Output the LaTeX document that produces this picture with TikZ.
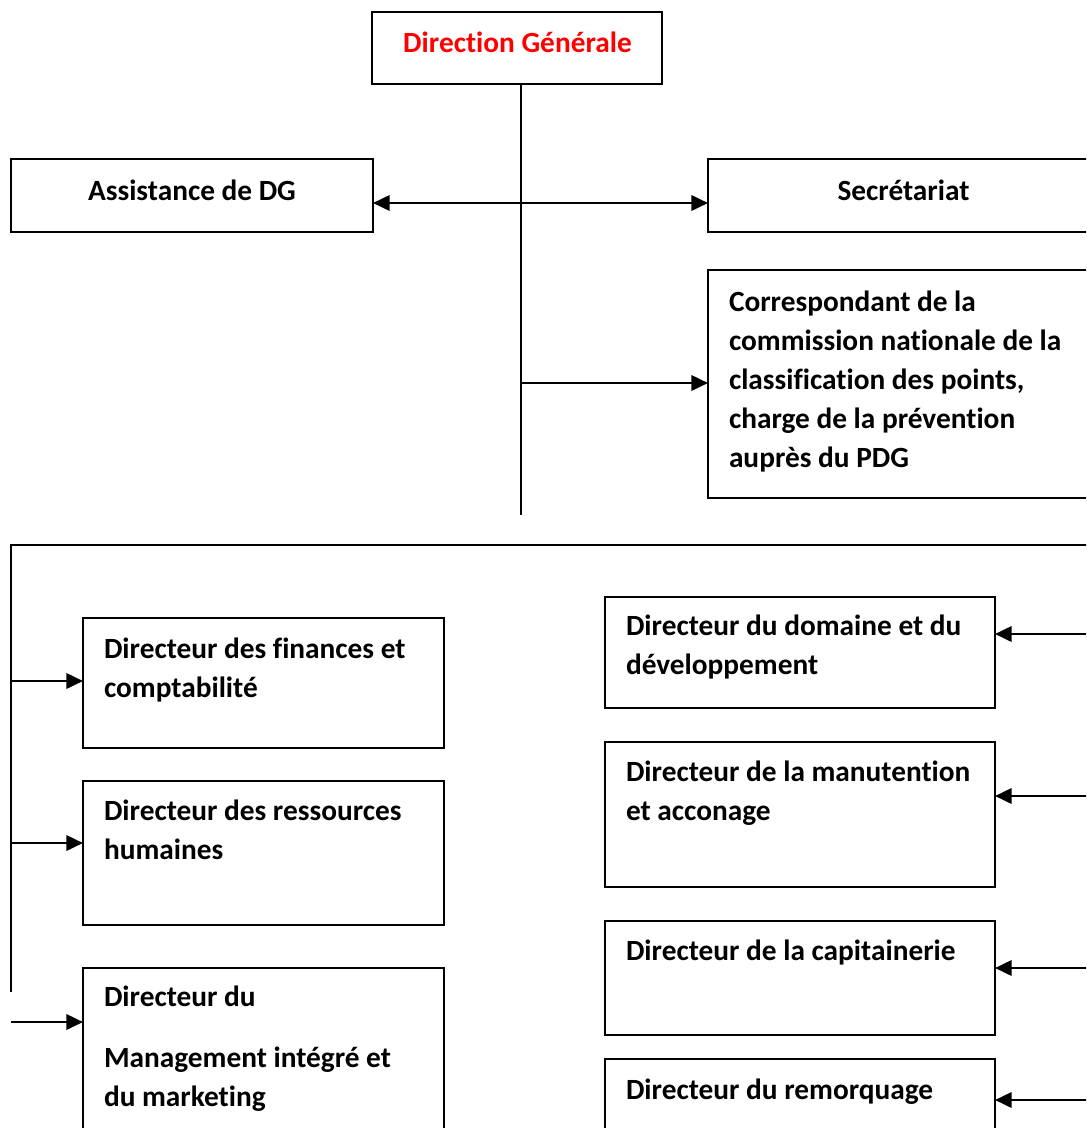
\documentclass[tikz,border=0pt]{standalone}
\usepackage{fontspec}
\setmainfont{Carlito}[Ligatures={NoCommon}]
\usetikzlibrary{arrows.meta,fit}
\begin{document}
\begin{tikzpicture}[x=0.75pt,y=-0.75pt,
  box/.style={draw, line width=1.5pt, inner sep=0pt, outer sep=0pt},
  lbl/.style={inner sep=0pt, outer sep=0pt, align=left, font=\fontsize{22pt}{29.25pt}\selectfont\bfseries},
  trunk/.style={line width=1.5pt},
  arr/.style={line width=2pt, -{Triangle[length=12.5pt,width=11.5pt]}},
  darr/.style={line width=2pt, {Triangle[length=12.5pt,width=11.5pt]}-{Triangle[length=12.5pt,width=11.5pt]}}]
\useasboundingbox (0,0) rectangle (1086,1128);
\clip (0,0) rectangle (1086,1128);
% boxes
\node[box, fit={(372,12) (662,84)}] (dg) {};
\node[box, fit={(11,159) (373,232)}] (asst) {};
\node[box, fit={(708,159) (1110,232)}] (secr) {};
\node[box, fit={(708,270) (1110,498)}] (corr) {};
\node[box, fit={(83,618) (444,748)}] (fin) {};
\node[box, fit={(83,781) (444,925)}] (rh) {};
\node[box, fit={(83,968) (444,1150)}] (mgmt) {};
\node[box, fit={(605,597) (995,708)}] (dom) {};
\node[box, fit={(605,742) (995,887)}] (man) {};
\node[box, fit={(605,921) (995,1035)}] (cap) {};
\node[box, fit={(605,1059) (995,1150)}] (rem) {};
% texts (multi-line: anchored at the baseline of the last line)
\node[lbl, anchor=base, text=red] (dgt) at (517.5,52) {Direction Générale};
\node[lbl, anchor=base] (asstt) at (192,200) {Assistance de DG};
\node[lbl, anchor=base] (secrt) at (903.5,200) {Secrétariat};
\node[lbl, anchor=base west] (corrt) at (729,467) {Correspondant de la\\commission nationale de la\\classification des points,\\charge de la prévention\\auprès du PDG};
\node[lbl, anchor=base west] (fint) at (104,697) {Directeur des finances et\\comptabilité};
\node[lbl, anchor=base west] (rht) at (104,859) {Directeur des ressources\\humaines};
\node[lbl, anchor=base west] (mgmtt) at (104,1106) {Directeur du\\[16.5pt]Management intégré et\\du marketing};
\node[lbl, anchor=base west] (domt) at (626,674) {Directeur du domaine et du\\développement};
\node[lbl, anchor=base west] (mant) at (626,820) {Directeur de la manutention\\et acconage};
\node[lbl, anchor=base west] (capt) at (626,960) {Directeur de la capitainerie};
\node[lbl, anchor=base west] (remt) at (626,1099) {Directeur du remorquage};
% trunk coordinates
\coordinate (t1) at (521,84);
\coordinate (t2) at (521,515);
\coordinate (j1) at (521,203);
\coordinate (j2) at (521,383);
\coordinate (h1) at (11,545);
\coordinate (h2) at (1110,545);
\coordinate (l2) at (11,992);
\coordinate (la) at (11,681);
\coordinate (lb) at (11,843);
\coordinate (lc) at (11,1022);
\coordinate (ra) at (1110,634);
\coordinate (rb) at (1110,796);
\coordinate (rc) at (1110,968);
\coordinate (rd) at (1110,1100);
% connectors
\draw[trunk] (t1) -- (t2);
\draw[darr] (asst.east |- j1) -- (secr.west |- j1);
\draw[arr] (j2) -- (corr.west |- j2);
\draw[trunk] (l2) -- (h1) -- (h2);
\draw[arr] (la) -- (fin.west |- la);
\draw[arr] (lb) -- (rh.west |- lb);
\draw[arr] (lc) -- (mgmt.west |- lc);
\draw[arr] (ra) -- (dom.east |- ra);
\draw[arr] (rb) -- (man.east |- rb);
\draw[arr] (rc) -- (cap.east |- rc);
\draw[arr] (rd) -- (rem.east |- rd);
\end{tikzpicture}
\end{document}
